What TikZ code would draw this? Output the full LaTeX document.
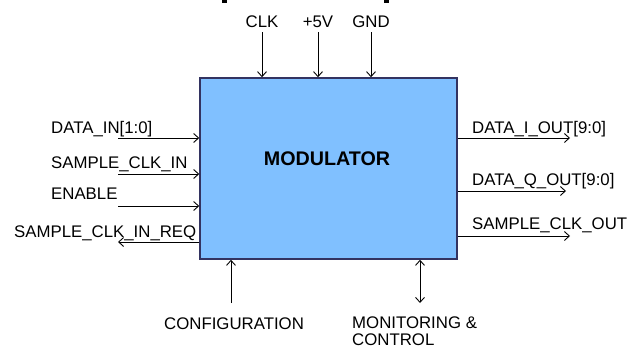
\documentclass[tikz,border=0pt]{standalone}
\usepackage{fontspec}
\setmainfont{Liberation Sans}
\usetikzlibrary{arrows.meta}
\begin{document}
\begin{tikzpicture}[x=1pt,y=-1pt,
  lbl/.style={inner sep=0pt,font=\fontsize{16.8}{17.4}\selectfont},
  box/.style={draw=black!70!blue!60!gray,line width=1.5pt,fill=modblue,inner sep=0pt},
  arr/.style={line width=0.9pt,-{Straight Barb[length=5pt,width=9pt]}},
  darr/.style={line width=0.9pt,{Straight Barb[length=5pt,width=9pt]}-{Straight Barb[length=5pt,width=9pt]}}]
\definecolor{modblue}{HTML}{80C0FF}
\useasboundingbox (0,0) rectangle (636,348);
% cropped title remnants
\fill[black] (222,0) rectangle (227,3);
\fill[black] (384,0) rectangle (389,3);
% main block
\node[box,minimum width=257pt,minimum height=181pt] (mod) at (328.5,168.5) {};
\node[lbl,font=\fontsize{19.7}{22}\selectfont\bfseries] (title) at (327,159) {MODULATOR};
% top
\node[lbl,anchor=base] (clk) at (262,27.3) {CLK};
\node[lbl,anchor=base] (vcc) at (318,27.3) {+5V};
\node[lbl,anchor=base] (gnd) at (371,27.3) {GND};
\coordinate (t1) at (262,32);
\coordinate (t2) at (318,32);
\coordinate (t3) at (371,32);
\draw[arr] (t1) -- (t1 |- mod.north);
\draw[arr] (t2) -- (t2 |- mod.north);
\draw[arr] (t3) -- (t3 |- mod.north);
% left
\node[lbl,anchor=base west] (din) at (51,133.3) {DATA\_IN[1:0]};
\node[lbl,anchor=base west] (sci) at (51,168.3) {SAMPLE\_CLK\_IN};
\node[lbl,anchor=base west] (en) at (51,199.3) {ENABLE};
\node[lbl,anchor=base west] (req) at (14,237.7) {SAMPLE\_CLK\_IN\_REQ};
\coordinate (l1) at (118,138);
\coordinate (l2) at (118,174);
\coordinate (l3) at (118,206);
\coordinate (l4) at (118,242);
\draw[arr] (l1) -- (l1 -| mod.west);
\draw[arr] (l2) -- (l2 -| mod.west);
\draw[arr] (l3) -- (l3 -| mod.west);
\draw[arr] (l4 -| mod.west) -- (l4);
% right
\node[lbl,anchor=base west] (dio) at (472,133.3) {DATA\_I\_OUT[9:0]};
\node[lbl,anchor=base west] (dqo) at (472,185.3) {DATA\_Q\_OUT[9:0]};
\node[lbl,anchor=base west] (sco) at (472,229.3) {SAMPLE\_CLK\_OUT};
\coordinate (r1) at (570,138);
\coordinate (r2) at (566,191);
\coordinate (r3) at (570,236);
\draw[arr] (r1 -| mod.east) -- (r1);
\draw[arr] (r2 -| mod.east) -- (r2);
\draw[arr] (r3 -| mod.east) -- (r3);
% bottom
\node[lbl,anchor=base west] (cfg) at (164,329.3) {CONFIGURATION};
\node[lbl,anchor=base west] (mon) at (352,328.8) {MONITORING \&};
\node[lbl,anchor=base west] (ctl) at (352,345.3) {CONTROL};
\coordinate (b1) at (231,303);
\coordinate (b2) at (420,303);
\draw[arr] (b1) -- (b1 |- mod.south);
\draw[darr] (b2) -- (b2 |- mod.south);
\end{tikzpicture}
\end{document}
